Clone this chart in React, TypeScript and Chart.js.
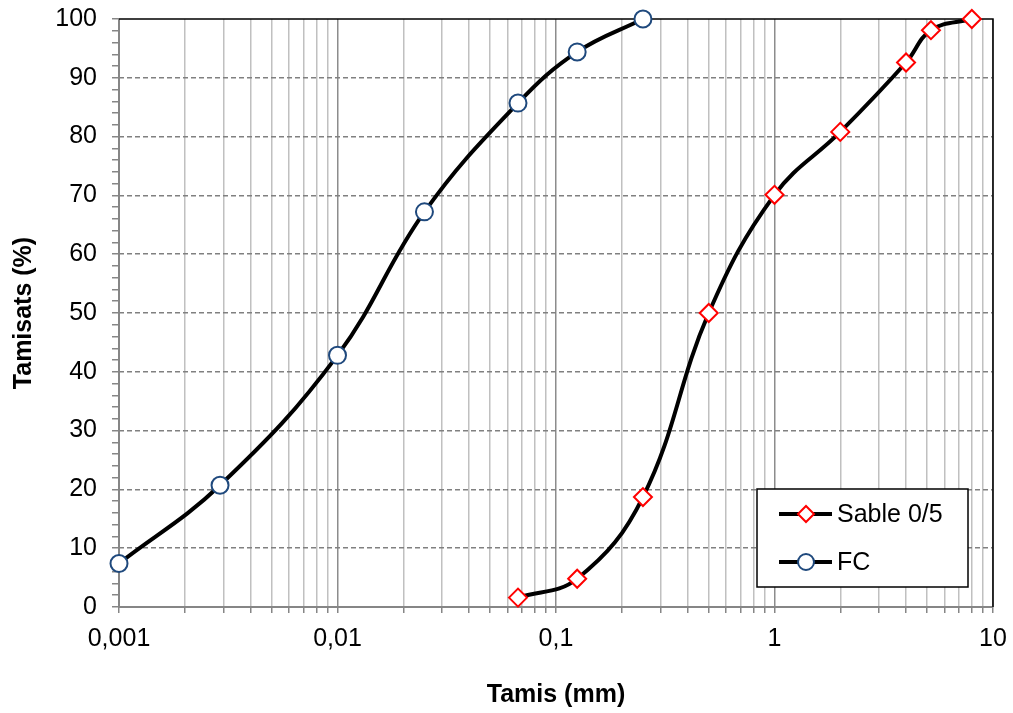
import React, { useEffect, useRef } from "react";
import { Chart, registerables } from "chart.js";

Chart.register(...registerables);

// ---- Data ----
const sableX = [0.067, 0.125, 0.25, 0.5, 1, 2, 4, 5.2, 8];
const sableY = [1.6, 4.8, 18.7, 50, 70.1, 80.8, 92.6, 98.1, 100];
const fcX = [0.001, 0.0029, 0.01, 0.025, 0.067, 0.125, 0.25];
const fcY = [7.4, 20.7, 42.8, 67.2, 85.7, 94.4, 100];

const seriesNames = ["Sable 0/5", "FC"];
const xDecades = [0.001, 0.01, 0.1, 1, 10];
const xTickLabels = ["0,001", "0,01", "0,1", "1", "10"];
const yTickValues = [0, 10, 20, 30, 40, 50, 60, 70, 80, 90, 100];

const xTitle = "Tamis (mm)";
const yTitle = "Tamisats (%)";

const FONT = "'Liberation Sans', Arial, sans-serif";
const FC_BLUE = "#1F497D";
const RED = "#FF0000";

function decadeIndex(v: number): number {
  for (let i = 0; i < xDecades.length; i++) {
    if (Math.abs(v - xDecades[i]) / xDecades[i] < 1e-6) return i;
  }
  return -1;
}

function buildXTicks(): number[] {
  const out: number[] = [];
  for (let d = 0; d < xDecades.length - 1; d++) {
    for (let m = 1; m <= 9; m++) {
      out.push(Number((m * xDecades[d]).toPrecision(4)));
    }
  }
  out.push(xDecades[xDecades.length - 1]);
  return out;
}

const framePlugin = {
  id: "frame",
  beforeDatasetsDraw(chart: any) {
    const { ctx, chartArea: a } = chart;
    ctx.save();
    ctx.lineWidth = 2;
    ctx.strokeStyle = "#868686";
    ctx.beginPath();
    ctx.moveTo(a.left, a.top);
    ctx.lineTo(a.left, a.bottom);
    ctx.lineTo(a.right, a.bottom);
    ctx.stroke();
    ctx.lineWidth = 1.5;
    ctx.strokeStyle = "#000000";
    ctx.beginPath();
    ctx.moveTo(a.left, a.top);
    ctx.lineTo(a.right, a.top);
    ctx.lineTo(a.right, a.bottom);
    ctx.stroke();
    ctx.restore();
  },
};

const legendPlugin = {
  id: "boxLegend",
  afterDraw(chart: any) {
    const { ctx, chartArea: a } = chart;
    const bx = a.right - 236;
    const by = a.bottom - 118;
    const bw = 211;
    const bh = 98;
    ctx.save();
    ctx.fillStyle = "#ffffff";
    ctx.fillRect(bx, by, bw, bh);
    ctx.lineWidth = 1.5;
    ctx.strokeStyle = "#000000";
    ctx.strokeRect(bx, by, bw, bh);

    const rows = [by + 25, by + 73];
    rows.forEach((ry, i) => {
      ctx.lineWidth = 4;
      ctx.strokeStyle = "#000000";
      ctx.beginPath();
      ctx.moveTo(bx + 22, ry);
      ctx.lineTo(bx + 75, ry);
      ctx.stroke();
      const mx = bx + 49;
      ctx.fillStyle = "#ffffff";
      ctx.lineWidth = 2;
      ctx.beginPath();
      if (i === 0) {
        const r = 8;
        ctx.moveTo(mx - r, ry);
        ctx.lineTo(mx, ry - r);
        ctx.lineTo(mx + r, ry);
        ctx.lineTo(mx, ry + r);
        ctx.closePath();
        ctx.strokeStyle = RED;
      } else {
        ctx.arc(mx, ry, 8, 0, Math.PI * 2);
        ctx.strokeStyle = FC_BLUE;
      }
      ctx.fill();
      ctx.stroke();
      ctx.fillStyle = "#000000";
      ctx.font = `25px ${FONT}`;
      ctx.textAlign = "left";
      ctx.textBaseline = "middle";
      ctx.fillText(seriesNames[i], bx + 80, ry + 1);
    });
    ctx.restore();
  },
};

export default function App() {
  const canvasRef = useRef<HTMLCanvasElement | null>(null);

  useEffect(() => {
    if (!canvasRef.current) return;
    Chart.defaults.font.family = FONT;
    Chart.defaults.color = "#000000";
    const xTicks = buildXTicks();

    const chart = new Chart(canvasRef.current, {
      type: "line",
      data: {
        datasets: [
          {
            label: seriesNames[0],
            data: sableX.map((x, i) => ({ x, y: sableY[i] })),
            borderColor: "#000000",
            borderWidth: 4,
            tension: 0.4,
            pointStyle: "rectRot",
            pointRadius: 9,
            pointBackgroundColor: "#ffffff",
            pointBorderColor: RED,
            pointBorderWidth: 2,
            clip: false as any,
            fill: false,
          },
          {
            label: seriesNames[1],
            data: fcX.map((x, i) => ({ x, y: fcY[i] })),
            borderColor: "#000000",
            borderWidth: 4,
            tension: 0.4,
            pointStyle: "circle",
            pointRadius: 8.5,
            pointBackgroundColor: "#ffffff",
            pointBorderColor: FC_BLUE,
            pointBorderWidth: 2,
            clip: false as any,
            fill: false,
          },
        ],
      },
      options: {
        responsive: false,
        animation: false,
        events: [],
        devicePixelRatio: 1,
        layout: { padding: { left: 0, top: 19, right: 20, bottom: 0 } },
        plugins: {
          legend: { display: false },
          tooltip: { enabled: false },
        },
        scales: {
          x: {
            type: "logarithmic",
            min: xDecades[0],
            max: xDecades[xDecades.length - 1],
            afterBuildTicks: (scale: any) => {
              scale.ticks = xTicks.map((v) => ({ value: v }));
            },
            afterFit: (scale: any) => {
              scale.height = 106;
              scale.paddingLeft = 0;
              scale.paddingRight = 0;
            },
            ticks: {
              autoSkip: false,
              maxRotation: 0,
              minRotation: 0,
              padding: 11,
              font: { size: 25 },
              color: "#000000",
              callback: (value: any) => {
                const idx = decadeIndex(Number(value));
                return idx >= 0 ? xTickLabels[idx] : "";
              },
            },
            grid: {
              color: (ctx: any) =>
                ctx.tick && decadeIndex(ctx.tick.value) >= 0 ? "#8c8c8c" : "#c0c0c0",
              lineWidth: 1.5,
              tickLength: 6,
              tickColor: "#868686",
              tickWidth: 1.5,
            },
            border: { display: false },
            title: {
              display: true,
              text: xTitle,
              font: { size: 25, weight: "bold" },
              color: "#000000",
              padding: { top: 0, bottom: 3 },
            },
          },
          y: {
            type: "linear",
            min: 0,
            max: 100,
            afterBuildTicks: (scale: any) => {
              const t: any[] = [];
              for (let v = 0; v <= 100; v += 2) t.push({ value: v });
              scale.ticks = t;
            },
            afterFit: (scale: any) => {
              scale.width = 119;
              scale.paddingTop = 0;
              scale.paddingBottom = 0;
            },
            ticks: {
              autoSkip: false,
              padding: 15,
              font: { size: 25 },
              color: "#000000",
              callback: (value: any) => {
                const v = Number(value);
                return yTickValues.includes(v) ? String(v) : "";
              },
            },
            grid: {
              color: (ctx: any) => {
                const v = ctx.tick ? ctx.tick.value : -1;
                return v % 10 === 0 && v > 0 && v < 100 ? "#808080" : "rgba(0,0,0,0)";
              },
              lineWidth: 1.5,
              tickLength: 7,
              tickColor: "#868686",
              tickWidth: 1.5,
            },
            border: { display: false, dash: [5, 3] },
            title: {
              display: true,
              text: yTitle,
              font: { size: 25, weight: "bold" },
              color: "#000000",
              padding: { top: 9, bottom: 0 },
            },
          },
        },
      },
      plugins: [framePlugin, legendPlugin],
    } as any);

    return () => chart.destroy();
  }, []);

  return (
    <div style={{ position: "fixed", left: 0, top: 0, width: 1013, height: 713, background: "#ffffff" }}>
      <canvas ref={canvasRef} width={1013} height={713} style={{ width: 1013, height: 713, display: "block" }} />
    </div>
  );
}
